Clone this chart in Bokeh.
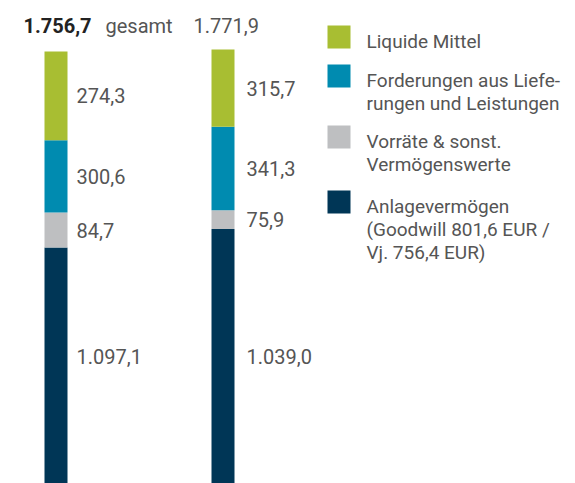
from bokeh.plotting import figure
from bokeh.models import Range1d
from bokeh.embed import file_html
from bokeh.resources import INLINE
from bokeh.core.properties import value

# ---- data (stack order: bottom -> top) ----
segment_names = ["Anlagevermögen", "Vorräte & sonst. Vermögenswerte",
                 "Forderungen aus Lieferungen und Leistungen", "Liquide Mittel"]
segment_colors = ["#003656", "#BEBFC1", "#008BB0", "#A8BE32"]
bar1_heights = [963.0, 143.0, 295.0, 362.0]      # as drawn in the picture
bar2_heights = [1039.0, 75.9, 341.3, 315.7]
bar1_labels = ["1.097,1", "84,7", "300,6", "274,3"]
bar2_labels = ["1.039,0", "75,9", "341,3", "315,7"]
totals = ["1.756,7", "1.771,9"]
total_word = "gesamt"
legend_lines = [
    ["Liquide Mittel"],
    ["Forderungen aus Liefe-", "rungen und Leistungen"],
    ["Vorräte & sonst.", "Vermögenswerte"],
    ["Anlagevermögen", "(Goodwill 801,6 EUR /", "Vj. 756,4 EUR)"],
]
legend_colors = ["#A8BE32", "#008BB0", "#BEBFC1", "#003656"]

# ---- layout ----
W, H = 575, 483
S = 0.245            # px per unit
BOTTOM_PAGE = 483     # page y of value 0
FONT = "Roboto"
TXT = "#555555"


def yv(page_y):
    return (BOTTOM_PAGE - page_y) / S


def xv(page_x):
    return page_x


p = figure(width=W, height=H, output_backend="svg", toolbar_location=None,
           x_range=Range1d(0, W), y_range=Range1d(yv(H), yv(0)),
           min_border=0)
p.axis.visible = False
p.grid.visible = False
p.outline_line_color = None
p.background_fill_color = "white"
p.border_fill_color = "white"

bar_x = [xv(55.5), xv(222.5)]
label_x = [xv(76), xv(246)]
bars = [bar1_heights, bar2_heights]
labels = [bar1_labels, bar2_labels]
dark_label_y = max(bar1_heights[0], bar2_heights[0]) / 2

for bi in range(2):
    bottom = 0.0
    for si, h in enumerate(bars[bi]):
        p.vbar(x=bar_x[bi], bottom=bottom, top=bottom + h, width=23,
               fill_color=segment_colors[si], line_color=None)
        ly = dark_label_y if si == 0 else bottom + h / 2
        p.text(x=[label_x[bi]], y=[ly], text=[labels[bi][si]],
               text_font=value(FONT), text_font_size="20px", text_color=TXT,
               text_baseline="middle", text_align="left")
        bottom += h

# totals row
TB = 25
p.text(x=[xv(23)], y=[yv(TB)], text=[totals[0]], text_font=value(FONT),
       text_font_size="20px", text_font_style="bold", text_color="#222222",
       text_baseline="alphabetic")
p.text(x=[xv(105)], y=[yv(TB)], text=[total_word], text_font=value(FONT),
       text_font_size="20px", text_color=TXT, text_baseline="alphabetic")
p.text(x=[xv(193)], y=[yv(TB)], text=[totals[1]], text_font=value(FONT),
       text_font_size="20px", text_color=TXT, text_baseline="alphabetic")

# legend
item_tops = [25, 64, 125, 190]
for i, lines in enumerate(legend_lines):
    top = item_tops[i]
    p.scatter(x=[xv(338.5)], y=[yv(top + 11.5)], marker="square", size=23,
              fill_color=legend_colors[i], line_color=None)
    for li, t in enumerate(lines):
        p.text(x=[xv(366)], y=[yv(top + 16 + 23 * li)], text=[t],
               text_font=value(FONT), text_font_size="19px", text_color=TXT,
               text_baseline="alphabetic")

open("out.html", "w").write(file_html(p, INLINE))
